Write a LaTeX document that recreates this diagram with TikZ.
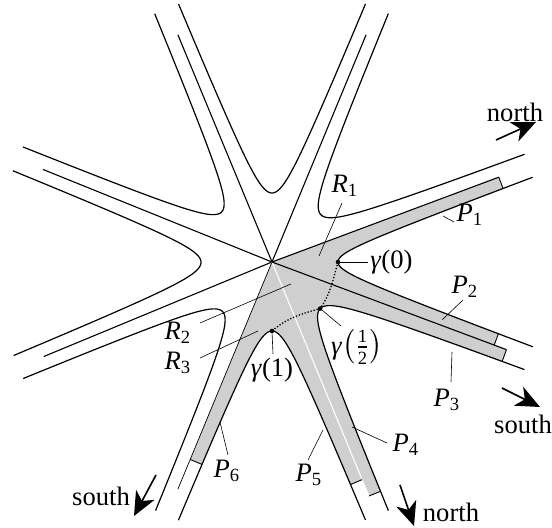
\documentclass[tikz,border=0pt]{standalone}
\usepackage{amsmath}
\usepackage{fontspec}
\setmainfont{Liberation Serif}
\usetikzlibrary{calc,arrows.meta}

\newcommand\setsector[5]{%
 \pgfmathsetmacro\tmpb{(#2+#3)/2}%
 \pgfmathsetmacro\tmph{(#3-#2)/2}%
 \pgfmathsetmacro\tmpc{#5/sin(\tmph)}%
 \pgfmathsetmacro\tmpa{#4-\tmpc}%
 \pgfmathsetmacro\tmpw{\tmpa*tan(\tmph)}%
 \expandafter\xdef\csname hb#1\endcsname{\tmpb}%
 \expandafter\xdef\csname hh#1\endcsname{\tmph}%
 \expandafter\xdef\csname hc#1\endcsname{\tmpc}%
 \expandafter\xdef\csname ha#1\endcsname{\tmpa}%
 \expandafter\xdef\csname hw#1\endcsname{\tmpw}%
}
\newcommand\hx[2]{(\csname hc#1\endcsname*cos(\csname hb#1\endcsname)+\csname ha#1\endcsname*cosh(#2)*cos(\csname hb#1\endcsname)-\csname hw#1\endcsname*sinh(#2)*sin(\csname hb#1\endcsname))}
\newcommand\hy[2]{(\csname hc#1\endcsname*sin(\csname hb#1\endcsname)+\csname ha#1\endcsname*cosh(#2)*sin(\csname hb#1\endcsname)+\csname hw#1\endcsname*sinh(#2)*cos(\csname hb#1\endcsname))}
\newcommand\settpar[3]{%
 \pgfmathsetmacro#3{ln(2*(#2-\csname hc#1\endcsname*cos(\csname hh#1\endcsname))*cos(\csname hh#1\endcsname)/\csname ha#1\endcsname)}%
}

\begin{document}
\begin{tikzpicture}[x=0.5pt,y=0.5pt,
  curve/.style={line width=0.6pt},
  ray/.style={line width=0.55pt},
  tick/.style={line width=0.45pt},
  pointer/.style={line width=0.3pt},
  lab/.style={font=\fontsize{13.3}{16}\selectfont, inner sep=1pt},
  bigarrow/.style={line width=0.8pt, -{Stealth[length=12pt,width=10.5pt,inset=3.5pt]}},
  fillc/.style={fill=black!19},
  dots/.style={line width=0.65pt, dash pattern=on 0.65pt off 0.9pt},
  vdot/.style={fill=black}]
\useasboundingbox (-272,-266) rectangle (280,262);

\setsector{H}{-20.5}{20.5}{66}{11}
\setsector{A}{20.5}{67.5}{68}{11}
\setsector{B}{67.5}{112.5}{69}{11}
\setsector{C}{112.5}{158}{71}{12}
\setsector{D}{158}{202.5}{71}{11}
\setsector{E}{202.5}{247.5}{70}{11}
\setsector{F}{247.5}{292.5}{69}{11}
\setsector{G}{292.5}{339.5}{67}{11}

\settpar{H}{241}{\tPa}
\settpar{H}{236}{\tPb}
\settpar{G}{249}{\tPc}
\settpar{G}{252}{\tPd}
\settpar{F}{234}{\tPe}
\settpar{F}{212}{\tPf}

\coordinate (O) at (0,0);
\coordinate (h1) at ({\hx{H}{\tPa}},{\hy{H}{\tPa}});
\coordinate (q1) at ($(O)!(h1)!(20.5:100)$);
\coordinate (h2) at ({\hx{H}{-\tPb}},{\hy{H}{-\tPb}});
\coordinate (q2) at ($(O)!(h2)!(-20.5:100)$);
\coordinate (h3) at ({\hx{G}{\tPc}},{\hy{G}{\tPc}});
\coordinate (q3) at ($(O)!(h3)!(-20.5:100)$);
\coordinate (h4) at ({\hx{G}{-\tPd}},{\hy{G}{-\tPd}});
\coordinate (q4) at ($(O)!(h4)!(-67.5:100)$);
\coordinate (h5) at ({\hx{F}{\tPe}},{\hy{F}{\tPe}});
\coordinate (q5) at ($(O)!(h5)!(-67.5:100)$);
\coordinate (h6) at ({\hx{F}{-\tPf}},{\hy{F}{-\tPf}});
\coordinate (q6) at ($(O)!(h6)!(247.5:100)$);

% gray region
\fill[fillc] (O) -- (q1) -- (h1)
  -- plot[domain=\tPa:-\tPb,samples=120] ({\hx{H}{\x}},{\hy{H}{\x}})
  -- (q2) -- (q3) -- (h3)
  -- plot[domain=\tPc:-\tPd,samples=120] ({\hx{G}{\x}},{\hy{G}{\x}})
  -- (q4) -- (q5) -- (h5)
  -- plot[domain=\tPe:-\tPf,samples=120] ({\hx{F}{\x}},{\hy{F}{\x}})
  -- (q6) -- cycle;

% rays
\draw[ray] (O) -- (q1);
\draw[ray] (O) -- (67.5:246);
\draw[ray] (O) -- (112.5:246);
\draw[ray] (O) -- (158:247);
\draw[ray] (O) -- (202.5:247);
\draw[ray,line width=0.35pt] (O) -- (247.5:246);
\draw[ray,white] (O) -- (q4);
\draw[ray] (O) -- (q3);

% curves
\foreach \s in {A,B,C,D,E,F,G,H}{
  \settpar{\s}{273}{\tE}
  \draw[curve] plot[domain=-\tE:\tE,samples=140,smooth] ({\hx{\s}{\x}},{\hy{\s}{\x}});
}

% ticks
\draw[tick] (h1) -- (q1);
\draw[tick] (h2) -- (q2);
\draw[tick] (h3) -- (q3);
\draw[tick] (h4) -- (q4);
\draw[tick] (h5) -- (q5);
\draw[tick] (h6) -- (q6);

% path gamma
\coordinate (g0) at (0:66);
\coordinate (gh) at (316:67);
\coordinate (g1) at (270:69);
\draw[dots] (g0) to[out=-106,in=56] (gh) to[out=196,in=40] (g1);
\fill[vdot] (g0) circle (2.3);
\fill[vdot] (gh) circle (2.3);
\fill[vdot] (g1) circle (2.3);

% labels
\node[lab] (R1) at (73,76) {\textit{R}\textsubscript{1}};
\node[lab] (R2) at (-94,-71) {\textit{R}\textsubscript{2}};
\node[lab] (R3) at (-94,-101) {\textit{R}\textsubscript{3}};
\node[lab,anchor=west] (G0) at (96,0) {\textit{γ}(0)};
\node[lab] (Gh) at (85,-85) {\textit{γ}$\bigl(\tfrac{\text{1}}{\text{2}}\bigr)$};
\node[lab] (G1) at (0,-108) {\textit{γ}(1)};
\node[lab] (P1) at (198,47) {\textit{P}\textsubscript{1}};
\node[lab] (P2) at (193,-25) {\textit{P}\textsubscript{2}};
\node[lab] (P3) at (175,-138) {\textit{P}\textsubscript{3}};
\node[lab] (P4) at (134,-183) {\textit{P}\textsubscript{4}};
\node[lab] (P5) at (37,-213) {\textit{P}\textsubscript{5}};
\node[lab] (P6) at (-45,-209) {\textit{P}\textsubscript{6}};

% pointers
\coordinate (r1a) at (70,59);  \coordinate (r1b) at (47,6);
\coordinate (r2a) at (-72,-61); \coordinate (r2b) at (19,-22);
\coordinate (r3a) at (-72,-96); \coordinate (r3b) at (-14,-69);
\draw[pointer] (r1a) -- (r1b);
\draw[pointer] (r2a) -- (r2b);
\draw[pointer] (r3a) -- (r3b);
\draw[pointer] (g0) -- (G0.west);
\coordinate (ghe) at (69,-64);
\draw[pointer] (gh) -- (ghe);
\coordinate (g1e) at (1,-92);
\draw[pointer] (g1) -- (g1e);
\coordinate (p1a) at (171,46); \coordinate (p1b) at (182,40);
\coordinate (p2a) at (170,-58); \coordinate (p2b) at (191,-38);
\coordinate (p3a) at (180,-90); \coordinate (p3b) at (179,-120);
\coordinate (p4a) at (80,-165); \coordinate (p4b) at (115,-181);
\coordinate (p5a) at (51,-168); \coordinate (p5b) at (36,-198);
\coordinate (p6a) at (-52,-160); \coordinate (p6b) at (-44,-193);
\draw[pointer] (p1a) -- (p1b);
\draw[pointer] (p2a) -- (p2b);
\draw[pointer] (p3a) -- (p3b);
\draw[pointer] (p4a) -- (p4b);
\draw[pointer] (p5a) -- (p5b);
\draw[pointer] (p6a) -- (p6b);

% direction arrows
\node[lab] (n1) at (243,150) {north};
\node[lab] (s1) at (251,-162) {south};
\node[lab] (n2) at (179,-250) {north};
\node[lab] (s2) at (-171,-234) {south};
\coordinate (n1a) at (224,122); \coordinate (n1b) at (264,140);
\coordinate (s1a) at (230,-126); \coordinate (s1b) at (268,-145);
\coordinate (n2a) at (128,-223); \coordinate (n2b) at (142,-264);
\coordinate (s2a) at (-116,-213); \coordinate (s2b) at (-138,-254);
\draw[bigarrow] (n1a) -- (n1b);
\draw[bigarrow] (s1a) -- (s1b);
\draw[bigarrow] (n2a) -- (n2b);
\draw[bigarrow] (s2a) -- (s2b);
\end{tikzpicture}
\end{document}
